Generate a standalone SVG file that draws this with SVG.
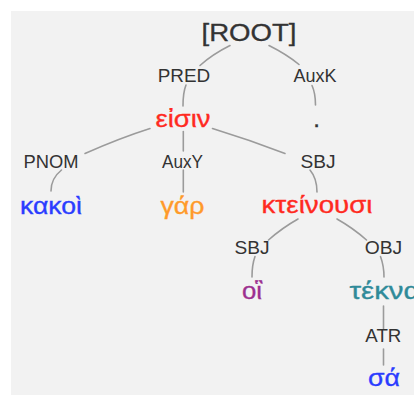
<svg xmlns="http://www.w3.org/2000/svg" width="414" height="396" viewBox="0 0 414 396">
  <style>
    .edge { fill: none; stroke: #9b9b9b; stroke-width: 1.6; stroke-linecap: round; }
    .lbl { font-family: "Liberation Sans", Arial, "DejaVu Sans", sans-serif; font-size: 18px; fill: #333333; text-anchor: middle; }
    .word { font-family: "Liberation Sans", Arial, "DejaVu Sans", sans-serif; font-size: 24px; text-anchor: middle; stroke-width: 0.35; }
    .root { font-family: "Liberation Sans", Arial, "DejaVu Sans", sans-serif; font-size: 23px; fill: #333333; stroke: #333333; stroke-width: 0.3; text-anchor: middle; }
  </style>

  <!-- page and panel -->
  <rect x="0" y="0" width="414" height="396" fill="#ffffff"/>
  <rect x="11" y="11" width="403" height="384" fill="#f2f2f2"/>

  <!-- connectors: parent -> relation label -> child -->
  <g id="connectors">
    <path class="edge" d="M230,45.5 Q212,54.5 200,65.5"/>
    <path class="edge" d="M186,85 C184,90 183,96 183,106"/>

    <path class="edge" d="M269,45.5 Q287,54.5 299,64.5"/>
    <path class="edge" d="M312,85.5 C314.5,91 315.5,96 315.5,105"/>

    <path class="edge" d="M150,128.5 Q120,138 85,153.5"/>
    <path class="edge" d="M61.5,170 C54,176 51,182 51,191"/>

    <path class="edge" d="M183.3,131.5 L183.3,151"/>
    <path class="edge" d="M183.3,170 L183.3,192"/>

    <path class="edge" d="M212.5,128.5 Q250,140 285,153.5"/>
    <path class="edge" d="M310,170 C315,176 317,183 317,192"/>

    <path class="edge" d="M298,219 Q282,228 268.5,240"/>
    <path class="edge" d="M255,256.5 C253,262 252,268 252,277"/>

    <path class="edge" d="M337,219 Q353,228 366.5,240"/>
    <path class="edge" d="M380.5,256.5 C382.5,262 384,268 384,277"/>

    <path class="edge" d="M383.5,306 L383.5,328.5"/>
    <path class="edge" d="M383.5,349 L383.5,365"/>
  </g>

  <!-- relation labels -->
  <g id="labels">
    <text class="lbl" x="184" y="81.5" textLength="52.5" lengthAdjust="spacingAndGlyphs">PRED</text>
    <text class="lbl" x="315" y="82" textLength="43" lengthAdjust="spacingAndGlyphs">AuxK</text>
    <text class="lbl" x="51" y="167.5" textLength="55" lengthAdjust="spacingAndGlyphs">PNOM</text>
    <text class="lbl" x="182.5" y="168" textLength="41" lengthAdjust="spacingAndGlyphs">AuxY</text>
    <text class="lbl" x="318" y="167.5" textLength="35" lengthAdjust="spacingAndGlyphs">SBJ</text>
    <text class="lbl" x="252" y="254" textLength="35" lengthAdjust="spacingAndGlyphs">SBJ</text>
    <text class="lbl" x="383.5" y="254" textLength="37.5" lengthAdjust="spacingAndGlyphs">OBJ</text>
    <text class="lbl" x="383.3" y="341.5" textLength="36" lengthAdjust="spacingAndGlyphs">ATR</text>
  </g>

  <!-- word nodes -->
  <g id="node-root"><text class="root" x="249" y="41" textLength="95" lengthAdjust="spacingAndGlyphs">[ROOT]</text></g>
  <g id="node-eisin"><text class="word" x="183" y="127" fill="#ff2a1f" stroke="#ff2a1f" textLength="55" lengthAdjust="spacingAndGlyphs">εἰσιν</text></g>
  <g id="node-period"><text class="word" x="316.7" y="127" fill="#333333" stroke="#333333">.</text></g>
  <g id="node-kakoi"><text class="word" x="51" y="213.5" fill="#2a3cff" stroke="#2a3cff" textLength="62" lengthAdjust="spacingAndGlyphs">κακοὶ</text></g>
  <g id="node-gar"><text class="word" x="182.5" y="213.5" fill="#ff9a2a" stroke="#ff9a2a" textLength="44" lengthAdjust="spacingAndGlyphs">γάρ</text></g>
  <g id="node-kteinousi"><text class="word" x="317" y="213" fill="#ff2a1f" stroke="#ff2a1f" textLength="111" lengthAdjust="spacingAndGlyphs">κτείνουσι</text></g>
  <g id="node-hoi"><text class="word" x="252" y="299" fill="#9c2f8f" stroke="#9c2f8f" textLength="20" lengthAdjust="spacingAndGlyphs">οἳ</text></g>
  <g id="node-tekna"><text class="word" x="349.5" y="299" fill="#2f8a99" stroke="#2f8a99" style="text-anchor:start" textLength="71" lengthAdjust="spacingAndGlyphs">τέκνα</text></g>
  <g id="node-sa"><text class="word" x="384" y="385.5" fill="#2a3cff" stroke="#2a3cff" textLength="32" lengthAdjust="spacingAndGlyphs">σά</text></g>
</svg>
